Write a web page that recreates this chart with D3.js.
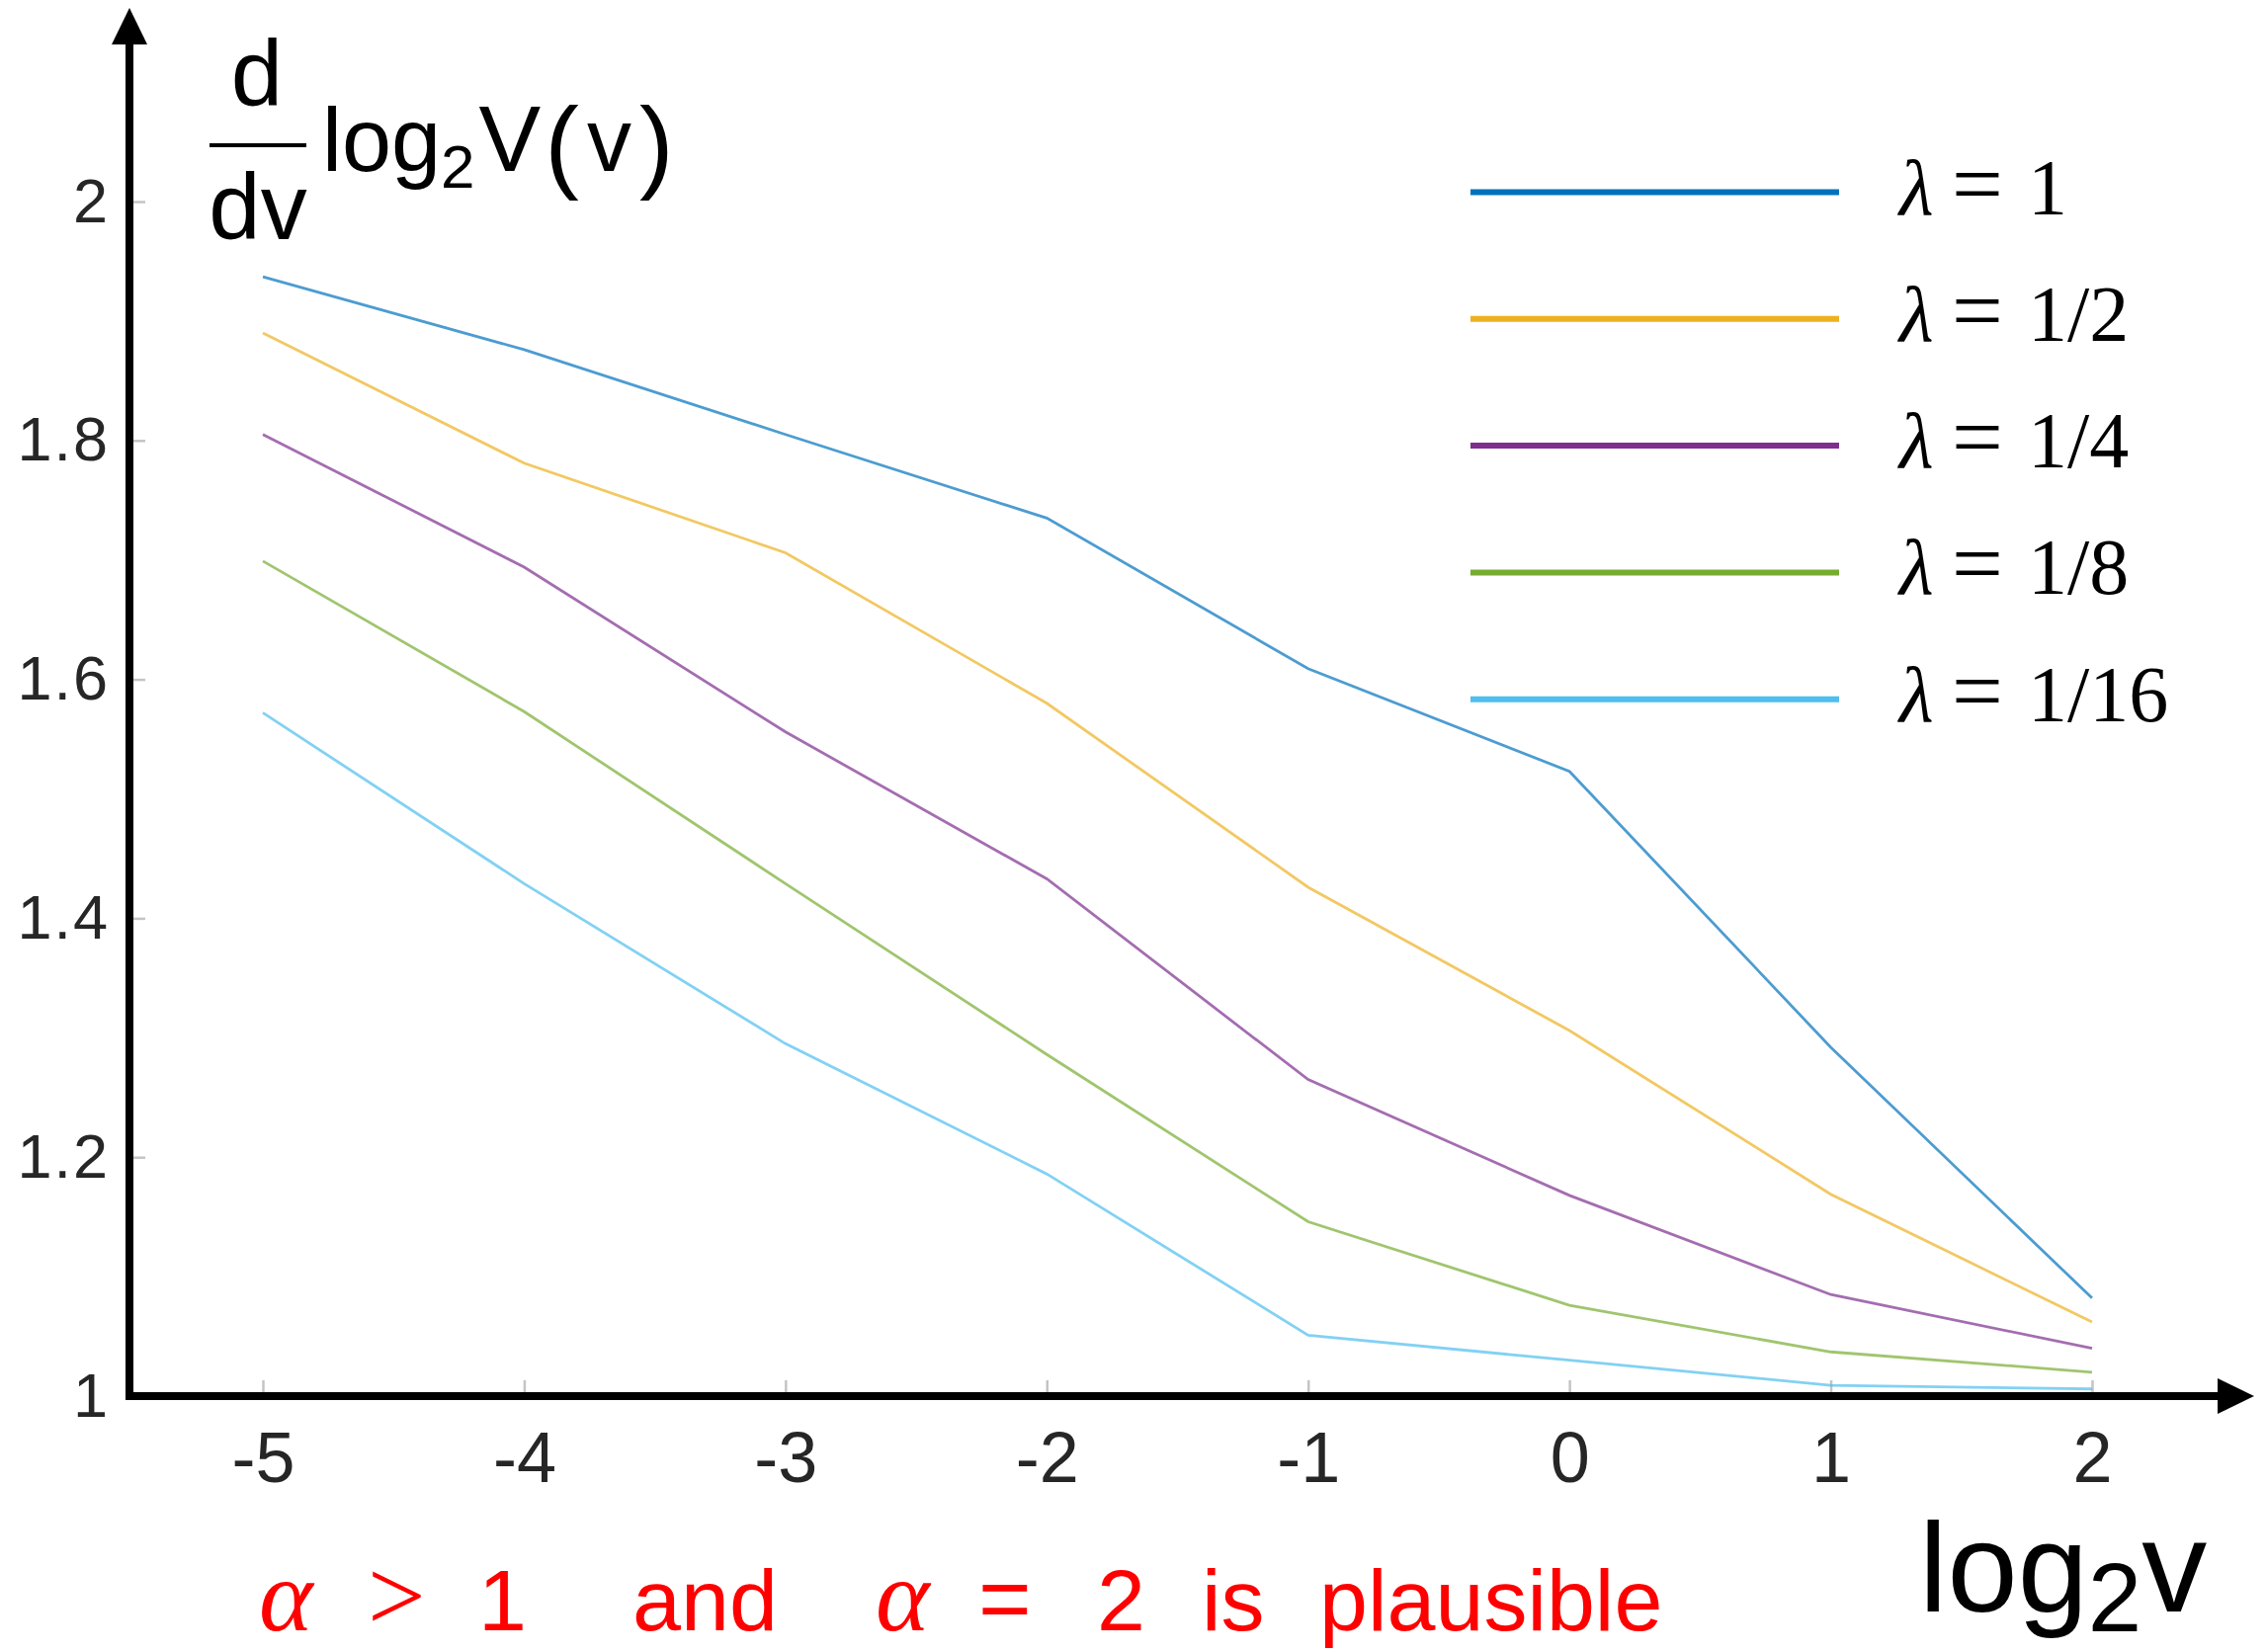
<!DOCTYPE html>
<html>
<head>
<meta charset="utf-8">
<script src="https://cdn.jsdelivr.net/npm/d3@7"></script>
<style>
  body { margin: 0; background: #ffffff; }
  svg { display: block; }
</style>
</head>
<body>
<div id="chart"></div>
<script>
// values
var xValues = [-5, -4, -3, -2, -1, 0, 1, 2];
var lambdaLabels = ["1", "1/2", "1/4", "1/8", "1/16"];
var lambdaOne       = [1.937, 1.876, 1.805, 1.735, 1.609, 1.523, 1.292, 1.082];
var lambdaHalf      = [1.890, 1.781, 1.706, 1.580, 1.426, 1.306, 1.169, 1.062];
var lambdaQuarter   = [1.805, 1.694, 1.556, 1.433, 1.265, 1.168, 1.085, 1.040];
var lambdaEighth    = [1.699, 1.573, 1.429, 1.286, 1.146, 1.076, 1.037, 1.020];
var lambdaSixteenth = [1.572, 1.429, 1.295, 1.186, 1.051, 1.030, 1.009, 1.006];
var yTicks = [1, 1.2, 1.4, 1.6, 1.8, 2];
var yTickLabels = ["1", "1.2", "1.4", "1.6", "1.8", "2"];
var xTickLabels = ["-5", "-4", "-3", "-2", "-1", "0", "1", "2"];
var colors = ["#0072BD", "#EDB120", "#7E2F8E", "#77AC30", "#4DBEEE"];

var series = [lambdaOne, lambdaHalf, lambdaQuarter, lambdaEighth, lambdaSixteenth];

var width = 2293, height = 1672;
var axisX = 131, axisY = 1413;

var svg = d3.select("#chart").append("svg")
    .attr("width", width)
    .attr("height", height);

var x = d3.scaleLinear().domain([-5, 2]).range([266, 2117]);
var y = d3.scaleLinear().domain([1, 2]).range([axisY, 204]);

// tick marks + labels (ticks point inward, like matlab)
var yAxis = svg.append("g")
    .attr("transform", "translate(" + axisX + ",0)")
    .call(d3.axisLeft(y)
        .tickValues(yTicks)
        .tickFormat(function(d, i) { return yTickLabels[i]; })
        .tickSize(-16)
        .tickPadding(20));

var xAxis = svg.append("g")
    .attr("transform", "translate(0," + axisY + ")")
    .call(d3.axisBottom(x)
        .tickValues(xValues)
        .tickFormat(function(d, i) { return xTickLabels[i]; })
        .tickSize(-16)
        .tickPadding(36));

[yAxis, xAxis].forEach(function(g) {
    g.select(".domain").remove();
    g.selectAll(".tick line").attr("stroke", "#c4c4c4").attr("stroke-width", 2.5);
    g.selectAll(".tick text")
        .attr("fill", "#262626")
        .style("font-family", "'Liberation Sans', Arial, sans-serif");
});
yAxis.selectAll(".tick text").style("font-size", "63px").style("letter-spacing", "2px");
xAxis.selectAll(".tick text").style("font-size", "72px");

// data lines
var line = d3.line()
    .x(function(d, i) { return x(xValues[i]); })
    .y(function(d) { return y(d); });

svg.append("g").selectAll("path")
    .data(series)
    .enter().append("path")
    .attr("d", line)
    .attr("fill", "none")
    .attr("stroke", function(d, i) { return colors[i]; })
    .attr("stroke-width", 2.8)
    .attr("stroke-opacity", 0.7);

// thick axis lines with arrow heads
svg.append("line")
    .attr("x1", axisX).attr("x2", axisX)
    .attr("y1", axisY + 4).attr("y2", 40)
    .attr("stroke", "#000").attr("stroke-width", 8);
svg.append("path")
    .attr("d", "M" + axisX + ",8 L" + (axisX - 18) + ",45 L" + (axisX + 18) + ",45 Z")
    .attr("fill", "#000");
svg.append("line")
    .attr("x1", axisX - 4).attr("x2", 2250)
    .attr("y1", axisY).attr("y2", axisY)
    .attr("stroke", "#000").attr("stroke-width", 8);
svg.append("path")
    .attr("d", "M2281," + axisY + " L2244," + (axisY - 18) + " L2244," + (axisY + 18) + " Z")
    .attr("fill", "#000");

// legend
var legend = svg.append("g").attr("class", "legend");
var rows = legend.selectAll("g")
    .data(lambdaLabels)
    .enter().append("g")
    .attr("transform", function(d, i) { return "translate(0," + (194.5 + i * 128.3) + ")"; });

rows.append("line")
    .attr("x1", 1488).attr("x2", 1861)
    .attr("y1", 0).attr("y2", 0)
    .attr("stroke", function(d, i) { return colors[i]; })
    .attr("stroke-width", 6);

var lt = rows.append("text")
    .attr("y", 22)
    .style("font-family", "'Liberation Serif', 'DejaVu Serif', serif")
    .style("font-size", "80px")
    .attr("fill", "#000");
lt.append("tspan").attr("x", 1922).style("font-style", "italic").text("λ");
lt.append("tspan").attr("x", 1975).style("font-size", "92px").text("=");
lt.append("tspan").attr("x", 2052).text(function(d) { return d; });

// y axis title: d/dv log2 V(v)
var yt = svg.append("g")
    .style("font-family", "'Liberation Sans', Arial, sans-serif")
    .attr("fill", "#000");
yt.append("text").attr("x", 260).attr("y", 107).attr("text-anchor", "middle")
    .style("font-size", "94px").text("d");
yt.append("line").attr("x1", 212).attr("x2", 310).attr("y1", 147).attr("y2", 147)
    .attr("stroke", "#000").attr("stroke-width", 4);
yt.append("text").attr("x", 261).attr("y", 242).attr("text-anchor", "middle")
    .style("font-size", "94px").text("dv");
var yl = yt.append("text").attr("x", 326).attr("y", 173).style("font-size", "90px");
yl.append("tspan").text("log");
yl.append("tspan").attr("dy", 17).style("font-size", "62px").text("2");
yl.append("tspan").attr("dy", -17).attr("dx", 4).style("font-size", "94px").text("V");
yl.append("tspan").attr("dx", 4).attr("dy", 8).style("font-size", "104px").style("font-weight", "300").text("(");
yl.append("tspan").attr("dx", 8).attr("dy", -8).text("v");
yl.append("tspan").attr("dx", 8).attr("dy", 8).style("font-size", "104px").text(")");

// x axis title: log2 v
var xl = svg.append("text")
    .attr("x", 1942).attr("y", 1631)
    .style("font-family", "'Liberation Sans', Arial, sans-serif")
    .style("font-size", "128px")
    .attr("fill", "#000");
xl.append("tspan").text("log");
xl.append("tspan").attr("dy", 20).style("font-size", "98px").text("2");
xl.append("tspan").attr("dy", -20).style("font-size", "132px").text("v");

// red note at the bottom
var note = svg.append("g").attr("fill", "#ff0000");
var sans = "'Liberation Sans', Arial, sans-serif";
var serif = "'Liberation Serif', 'DejaVu Serif', serif";
var pieces = [
    {t: "α", x: 262, f: serif, it: true, s: 104},
    {t: ">", x: 372, f: serif, it: false, s: 104},
    {t: "1", x: 484, f: sans, it: false, s: 88},
    {t: "and", x: 640, f: sans, it: false, s: 88},
    {t: "α", x: 886, f: serif, it: true, s: 104},
    {t: "=", x: 990, f: sans, it: false, s: 92},
    {t: "2", x: 1110, f: sans, it: false, s: 88},
    {t: "is", x: 1216, f: sans, it: false, s: 88},
    {t: "plausible", x: 1335, f: sans, it: false, s: 88}
];
note.selectAll("text")
    .data(pieces)
    .enter().append("text")
    .attr("x", function(d) { return d.x; })
    .attr("y", 1650)
    .style("font-family", function(d) { return d.f; })
    .style("font-style", function(d) { return d.it ? "italic" : "normal"; })
    .style("font-size", function(d) { return d.s + "px"; })
    .text(function(d) { return d.t; });
</script>
</body>
</html>
